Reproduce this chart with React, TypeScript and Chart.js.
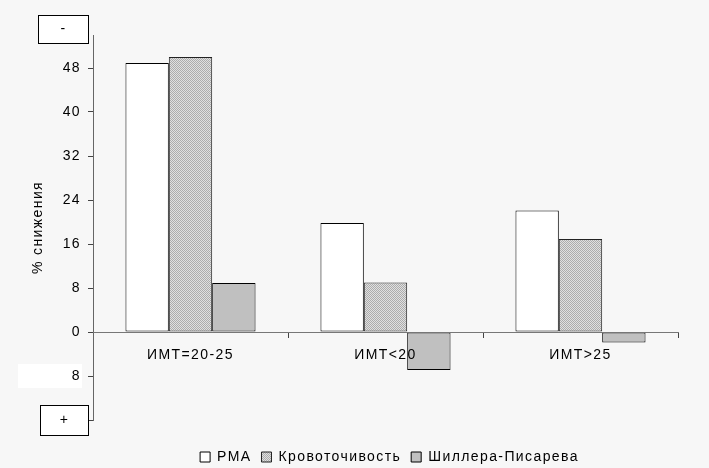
import React, { useEffect, useRef } from "react";
import { Chart, registerables } from "chart.js";

Chart.register(...registerables);

const categories = ["ИМТ=20-25", "ИМТ<20", "ИМТ>25"];
const seriesNames = ["РМА", "Кровоточивость", "Шиллера-Писарева"];
const rmaValues = [48.9, 19.8, 22.1];
const bleedingValues = [50.0, 9.0, 16.9];
const schillerValues = [8.9, -6.9, -1.9];
const yTickValues = [-16, -8, 0, 8, 16, 24, 32, 40, 48];
const yTickLabels = ["", "8", "0", "8", "16", "24", "32", "40", "48"];
const yMin = -16;
const yMax = 54;
const yTitle = "% снижения";
const topMarker = "-";
const bottomMarker = "+";

const FONT = "'Liberation Sans', Arial, sans-serif";
const FS = 14;
const SPACING = "1.4px";

function makePattern(): CanvasPattern | string {
  const c = document.createElement("canvas");
  c.width = 2;
  c.height = 2;
  const g = c.getContext("2d");
  if (!g) return "#c8c8c8";
  g.fillStyle = "#e0e0e0";
  g.fillRect(0, 0, 2, 2);
  g.fillStyle = "#acacac";
  g.fillRect(0, 0, 1, 1);
  g.fillRect(1, 1, 1, 1);
  const p = g.createPattern(c, "repeat");
  return p || "#c8c8c8";
}

function setSpacing(chart: any) {
  const ctx = chart.ctx as any;
  if (ctx && "letterSpacing" in ctx) ctx.letterSpacing = SPACING;
}

const decorPlugin = {
  id: "decor",
  beforeUpdate(chart: any) {
    setSpacing(chart);
  },
  afterLayout(chart: any) {
    const lg = chart.legend;
    if (lg) {
      lg.top += 20;
      lg.bottom += 20;
      lg.left += 4;
      lg.right += 4;
    }
  },
  beforeDraw(chart: any) {
    setSpacing(chart);
    const { ctx, width, height } = chart;
    ctx.save();
    ctx.fillStyle = "#f7f7f7";
    ctx.fillRect(0, 0, width, height);
    const y = chart.scales.y;
    const py = y.getPixelForValue(-8);
    ctx.fillStyle = "#ffffff";
    ctx.fillRect(18, py - 12, 64, 24);
    ctx.restore();
  },
  afterDraw(chart: any) {
    const { ctx, chartArea } = chart;
    const y = chart.scales.y;
    const drawBox = (x0: number, y0: number, w: number, h: number, text: string) => {
      ctx.save();
      ctx.fillStyle = "#ffffff";
      ctx.fillRect(x0, y0, w, h);
      ctx.strokeStyle = "#000000";
      ctx.lineWidth = 1;
      ctx.strokeRect(x0 + 0.5, y0 + 0.5, w - 1, h - 1);
      ctx.fillStyle = "#000000";
      ctx.font = `${FS}px ${FONT}`;
      ctx.textAlign = "center";
      ctx.textBaseline = "middle";
      ctx.fillText(text, x0 + w / 2, y0 + h / 2);
      ctx.restore();
    };
    drawBox(38, chartArea.top - 20, 51, 29, topMarker);
    const pb = y.getPixelForValue(-16);
    drawBox(40, pb - 15, 49, 31, bottomMarker);
  },
};

export default function App() {
  const ref = useRef<HTMLCanvasElement | null>(null);

  useEffect(() => {
    document.body.style.margin = "0";
    const canvas = ref.current;
    if (!canvas) return;
    const pattern = makePattern();
    const chart = new Chart(canvas, {
      type: "bar",
      data: {
        labels: categories,
        datasets: [
          {
            label: seriesNames[0],
            data: rmaValues,
            backgroundColor: "#ffffff",
            borderColor: "#000000",
            borderWidth: 1,
            borderSkipped: false,
            barPercentage: 1,
            categoryPercentage: 0.667,
          },
          {
            label: seriesNames[1],
            data: bleedingValues,
            backgroundColor: pattern as any,
            borderColor: "#222222",
            borderWidth: 1,
            borderSkipped: false,
            barPercentage: 1,
            categoryPercentage: 0.667,
          },
          {
            label: seriesNames[2],
            data: schillerValues,
            backgroundColor: "#c0c0c0",
            borderColor: "#000000",
            borderWidth: 1,
            borderSkipped: false,
            barPercentage: 1,
            categoryPercentage: 0.667,
          },
        ],
      },
      options: {
        responsive: false,
        animation: false,
        events: [],
        layout: { padding: { left: 0, right: 31, top: 35, bottom: 14 } },
        plugins: {
          tooltip: { enabled: false },
          legend: {
            position: "bottom",
            fullSize: false,
            labels: {
              boxWidth: 10,
              boxHeight: 10,
              padding: 10,
              color: "#000000",
              font: { family: FONT, size: FS },
            },
          },
        },
        scales: {
          x: {
            type: "category",
            position: { y: 0 } as any,
            offset: true,
            grid: {
              offset: true,
              drawOnChartArea: false,
              drawTicks: true,
              tickLength: 5,
              color: "#444444",
            },
            border: { display: true, color: "#777777", width: 1, z: 1 },
            ticks: {
              z: 1,
              color: "#000000",
              padding: 10,
              font: { family: FONT, size: FS },
            },
          },
          y: {
            position: "left",
            min: yMin,
            max: yMax,
            afterBuildTicks: (scale: any) => {
              scale.ticks = yTickValues.map((v) => ({ value: v }));
            },
            afterFit: (scale: any) => {
              scale.width = 93;
            },
            grid: {
              drawOnChartArea: false,
              drawTicks: true,
              tickLength: 5,
              color: "#444444",
            },
            border: { display: true, color: "#666666", width: 1 },
            ticks: {
              color: "#000000",
              padding: 7,
              font: { family: FONT, size: FS },
              callback: (value: any) => {
                const i = yTickValues.indexOf(Number(value));
                return i >= 0 ? yTickLabels[i] : "";
              },
            },
            title: {
              display: true,
              text: yTitle,
              color: "#000000",
              font: { family: FONT, size: FS },
              padding: { top: 30, bottom: 0 },
            },
          },
        },
      },
      plugins: [decorPlugin],
    });
    return () => chart.destroy();
  }, []);

  return (
    <div style={{ position: "fixed", left: 0, top: 0, width: 709, height: 468, background: "#f7f7f7" }}>
      <canvas ref={ref} width={709} height={468} style={{ width: 709, height: 468, display: "block" }} />
    </div>
  );
}
